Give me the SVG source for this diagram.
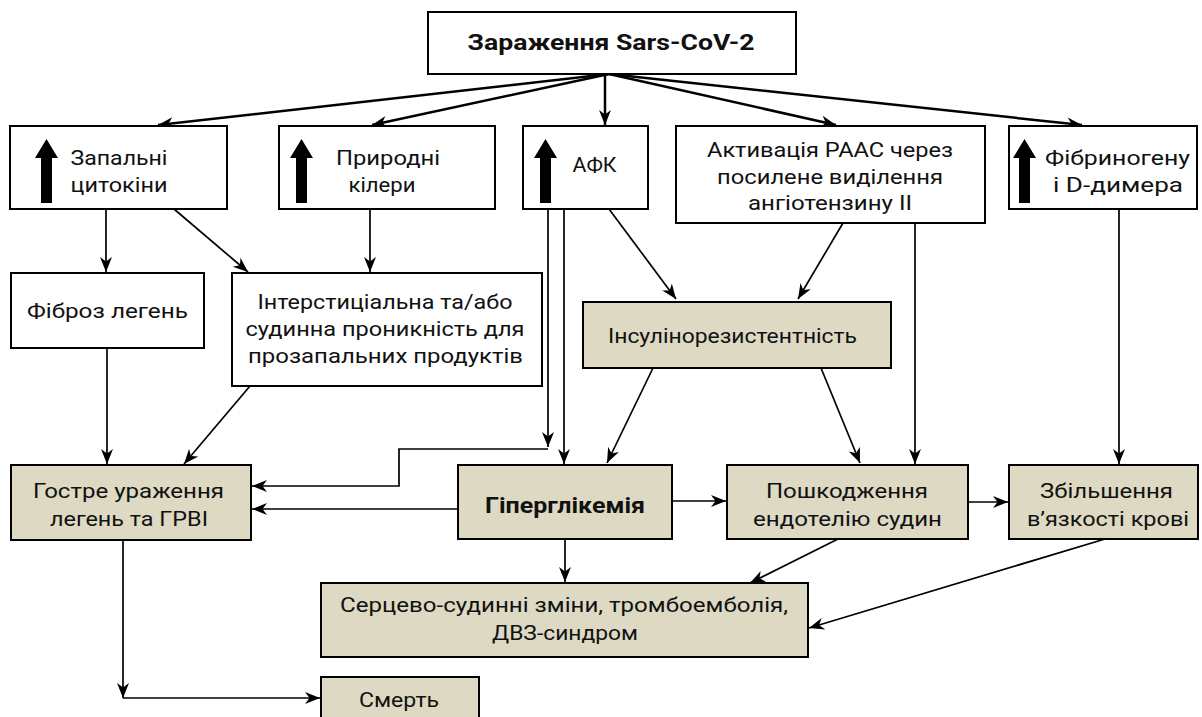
<svg xmlns="http://www.w3.org/2000/svg" width="1202" height="717" viewBox="0 0 1202 717">
<defs>
<marker id="ah" markerUnits="userSpaceOnUse" markerWidth="17" markerHeight="14" refX="15" refY="6" orient="auto" viewBox="0 0 17 12">
<path d="M0,0 L15,6 L0,12 L4.5,6 z" fill="#000"/>
</marker>
<style>
.w{fill:#fff;stroke:#000;stroke-width:2}
.b{fill:#ddd9c3;stroke:#000;stroke-width:2}
text{font-family:Roboto,"Noto Sans",sans-serif;font-size:21px;fill:#111;text-anchor:middle}
.bold{font-weight:bold;font-size:22px}
.c{fill:none;stroke:#000;stroke-width:1.7;marker-end:url(#ah)}
.ct{fill:none;stroke:#000;stroke-width:2.5;marker-end:url(#ah)}
.up{fill:#000}
</style>
</defs>
<rect width="1202" height="717" fill="#fff"/>
<g id="connectors">
<line class="ct" x1="609" y1="74" x2="158" y2="125"/>
<line class="ct" x1="609" y1="74" x2="372" y2="125"/>
<line class="ct" x1="605" y1="74" x2="605" y2="125"/>
<line class="ct" x1="609" y1="74" x2="836" y2="125"/>
<line class="ct" x1="609" y1="74" x2="1082" y2="125"/>
<line class="c" x1="106" y1="209" x2="106" y2="272"/>
<line class="c" x1="174" y1="209" x2="248" y2="272"/>
<line class="c" x1="370" y1="209" x2="370" y2="272"/>
<line class="c" x1="548" y1="209" x2="548" y2="447"/>
<polyline class="c" points="548,449 399,449 399,486 252,486"/>
<line class="c" x1="564" y1="209" x2="564" y2="464"/>
<line class="c" x1="609" y1="209" x2="676" y2="299"/>
<line class="c" x1="843" y1="223" x2="798" y2="299"/>
<line class="c" x1="915" y1="223" x2="915" y2="464"/>
<line class="c" x1="1119" y1="209" x2="1119" y2="464"/>
<line class="c" x1="107" y1="348" x2="107" y2="464"/>
<line class="c" x1="250" y1="386" x2="184" y2="464"/>
<line class="c" x1="653" y1="368" x2="607" y2="463"/>
<line class="c" x1="821" y1="368" x2="860" y2="463"/>
<line class="c" x1="458" y1="509" x2="252" y2="509"/>
<line class="c" x1="672" y1="501" x2="726" y2="501"/>
<line class="c" x1="565" y1="539" x2="565" y2="582"/>
<line class="c" x1="968" y1="502" x2="1008" y2="502"/>
<line class="c" x1="838" y1="539" x2="750" y2="583"/>
<line class="c" x1="1105" y1="539" x2="809" y2="628"/>
<line class="c" x1="123" y1="540" x2="123" y2="698"/>
<line class="c" x1="123" y1="698" x2="320" y2="698"/>
</g>
<g id="n-top">
<rect class="w" x="428" y="12" width="368" height="62"/>
<text class="bold" x="611" y="50" textLength="287" lengthAdjust="spacingAndGlyphs">Зараження Sars-CoV-2</text>
</g>
<g id="n-cyto">
<rect class="w" x="10" y="126" width="217" height="83"/>
<path class="up" d="M35,158 L46.5,139 L58,158 L52,158 L52,203 L41,203 L41,158 z"/>
<text x="119" y="165" textLength="97" lengthAdjust="spacingAndGlyphs">Запальні</text>
<text x="119" y="192" textLength="97" lengthAdjust="spacingAndGlyphs">цитокіни</text>
</g>
<g id="n-nk">
<rect class="w" x="279" y="126" width="216" height="83"/>
<path class="up" d="M290,158 L301.5,139 L313,158 L307,158 L307,203 L296,203 L296,158 z"/>
<text x="388" y="165" textLength="104" lengthAdjust="spacingAndGlyphs">Природні</text>
<text x="382" y="192" textLength="67" lengthAdjust="spacingAndGlyphs">кілери</text>
</g>
<g id="n-afk">
<rect class="w" x="523" y="126" width="125" height="83"/>
<path class="up" d="M534,158 L545.5,139 L557,158 L551,158 L551,203 L540,203 L540,158 z"/>
<text x="594.5" y="172" textLength="44" lengthAdjust="spacingAndGlyphs">АФК</text>
</g>
<g id="n-raas">
<rect class="w" x="676" y="126" width="309" height="97"/>
<text x="830" y="157" textLength="246" lengthAdjust="spacingAndGlyphs">Активація РААС через</text>
<text x="830" y="184" textLength="226" lengthAdjust="spacingAndGlyphs">посилене виділення</text>
<text x="830" y="210" textLength="164" lengthAdjust="spacingAndGlyphs">ангіотензину ІІ</text>
</g>
<g id="n-fib">
<rect class="w" x="1009" y="126" width="188" height="83"/>
<path class="up" d="M1013,158 L1024.5,139 L1036,158 L1030,158 L1030,203 L1019,203 L1019,158 z"/>
<text x="1117.5" y="165" textLength="145" lengthAdjust="spacingAndGlyphs">Фібриногену</text>
<text x="1118" y="192" textLength="130" lengthAdjust="spacingAndGlyphs">і D-димера</text>
</g>
<g id="n-fibrosis">
<rect class="w" x="11" y="273" width="193" height="75"/>
<text x="107.5" y="318" textLength="161" lengthAdjust="spacingAndGlyphs">Фіброз легень</text>
</g>
<g id="n-inter">
<rect class="w" x="232" y="273" width="310" height="113"/>
<text x="385" y="309" textLength="255" lengthAdjust="spacingAndGlyphs">Інтерстиціальна та/або</text>
<text x="385" y="336" textLength="279" lengthAdjust="spacingAndGlyphs">судинна проникність для</text>
<text x="385.5" y="363" textLength="275" lengthAdjust="spacingAndGlyphs">прозапальних продуктів</text>
</g>
<g id="n-insulin">
<rect class="b" x="583" y="302" width="308" height="66"/>
<text x="732.5" y="343" textLength="249" lengthAdjust="spacingAndGlyphs">Інсулінорезистентність</text>
</g>
<g id="n-lung">
<rect class="b" x="11" y="465" width="240" height="75"/>
<text x="128.5" y="498" textLength="191" lengthAdjust="spacingAndGlyphs">Гостре ураження</text>
<text x="129" y="526" textLength="158" lengthAdjust="spacingAndGlyphs">легень та ГРВІ</text>
</g>
<g id="n-hyper">
<rect class="b" x="458" y="465" width="214" height="74"/>
<text class="bold" x="565" y="513" textLength="160" lengthAdjust="spacingAndGlyphs">Гіперглікемія</text>
</g>
<g id="n-endo">
<rect class="b" x="727" y="465" width="241" height="74"/>
<text x="847" y="498" textLength="162" lengthAdjust="spacingAndGlyphs">Пошкодження</text>
<text x="847.5" y="526" textLength="189" lengthAdjust="spacingAndGlyphs">ендотелію судин</text>
</g>
<g id="n-visc">
<rect class="b" x="1009" y="465" width="189" height="74"/>
<text x="1106.5" y="498" textLength="133" lengthAdjust="spacingAndGlyphs">Збільшення</text>
<text x="1108" y="526" textLength="162" lengthAdjust="spacingAndGlyphs">в’язкості крові</text>
</g>
<g id="n-cardio">
<rect class="b" x="321" y="583" width="487" height="74"/>
<text x="564" y="612" textLength="448" lengthAdjust="spacingAndGlyphs">Серцево-судинні зміни, тромбоемболія,</text>
<text x="565" y="640" textLength="146" lengthAdjust="spacingAndGlyphs">ДВЗ-синдром</text>
</g>
<g id="n-death">
<rect class="b" x="321" y="677" width="158" height="45"/>
<text x="399" y="707" textLength="80" lengthAdjust="spacingAndGlyphs">Смерть</text>
</g>
</svg>
